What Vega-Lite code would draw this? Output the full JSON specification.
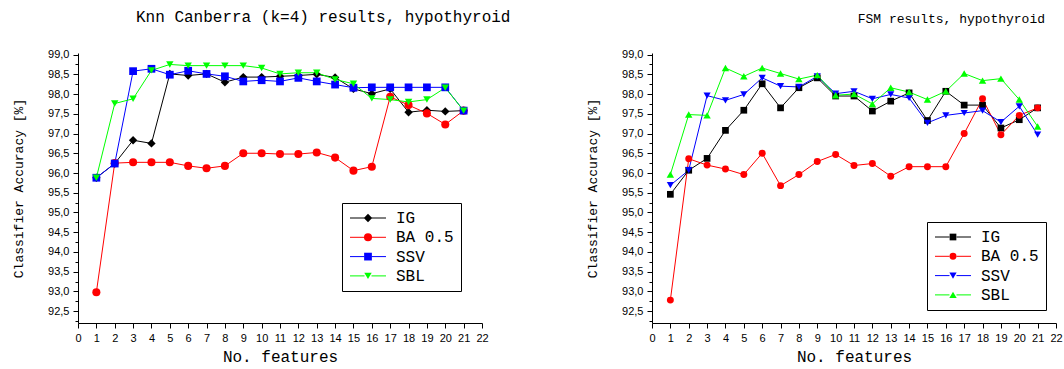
{
  "$schema": "https://vega.github.io/schema/vega-lite/v6.json",
  "background": "white",
  "padding": {"left": 12, "top": 8, "right": 0, "bottom": 0},
  "spacing": 170,
  "bounds": "flush",
  "resolve": {"scale": {"stroke": "independent", "fill": "independent", "shape": "independent", "size": "independent"}, "legend": {"stroke": "independent", "fill": "independent", "shape": "independent", "size": "independent"}},
  "config": {
    "view": {"stroke": null},
    "axis": {"grid": false, "domainColor": "black", "tickColor": "black", "labelColor": "black", "titleColor": "black", "labelFont": "Liberation Sans", "labelFontSize": 11, "titleFont": "Liberation Mono", "titleFontWeight": "normal"}
  },
  "datasets": {
    "left": [
      {"x":1,"v":95.88,"s":"IG"},{"x":2,"v":96.24,"s":"IG"},{"x":3,"v":96.83,"s":"IG"},{"x":4,"v":96.75,"s":"IG"},{"x":5,"v":98.51,"s":"IG"},{"x":6,"v":98.47,"s":"IG"},{"x":7,"v":98.51,"s":"IG"},{"x":8,"v":98.30,"s":"IG"},{"x":9,"v":98.43,"s":"IG"},{"x":10,"v":98.43,"s":"IG"},{"x":11,"v":98.45,"s":"IG"},{"x":12,"v":98.47,"s":"IG"},{"x":13,"v":98.50,"s":"IG"},{"x":14,"v":98.42,"s":"IG"},{"x":15,"v":98.13,"s":"IG"},{"x":16,"v":98.01,"s":"IG"},{"x":17,"v":98.13,"s":"IG"},{"x":18,"v":97.54,"s":"IG"},{"x":19,"v":97.59,"s":"IG"},{"x":20,"v":97.56,"s":"IG"},{"x":21,"v":97.58,"s":"IG"},
      {"x":1,"v":92.98,"s":"BA 0.5"},{"x":2,"v":96.25,"s":"BA 0.5"},{"x":3,"v":96.27,"s":"BA 0.5"},{"x":4,"v":96.27,"s":"BA 0.5"},{"x":5,"v":96.27,"s":"BA 0.5"},{"x":6,"v":96.18,"s":"BA 0.5"},{"x":7,"v":96.12,"s":"BA 0.5"},{"x":8,"v":96.18,"s":"BA 0.5"},{"x":9,"v":96.50,"s":"BA 0.5"},{"x":10,"v":96.50,"s":"BA 0.5"},{"x":11,"v":96.48,"s":"BA 0.5"},{"x":12,"v":96.48,"s":"BA 0.5"},{"x":13,"v":96.52,"s":"BA 0.5"},{"x":14,"v":96.39,"s":"BA 0.5"},{"x":15,"v":96.06,"s":"BA 0.5"},{"x":16,"v":96.16,"s":"BA 0.5"},{"x":17,"v":97.93,"s":"BA 0.5"},{"x":18,"v":97.72,"s":"BA 0.5"},{"x":19,"v":97.51,"s":"BA 0.5"},{"x":20,"v":97.23,"s":"BA 0.5"},{"x":21,"v":97.58,"s":"BA 0.5"},
      {"x":1,"v":95.88,"s":"SSV"},{"x":2,"v":96.24,"s":"SSV"},{"x":3,"v":98.58,"s":"SSV"},{"x":4,"v":98.64,"s":"SSV"},{"x":5,"v":98.49,"s":"SSV"},{"x":6,"v":98.59,"s":"SSV"},{"x":7,"v":98.51,"s":"SSV"},{"x":8,"v":98.45,"s":"SSV"},{"x":9,"v":98.32,"s":"SSV"},{"x":10,"v":98.35,"s":"SSV"},{"x":11,"v":98.32,"s":"SSV"},{"x":12,"v":98.41,"s":"SSV"},{"x":13,"v":98.32,"s":"SSV"},{"x":14,"v":98.24,"s":"SSV"},{"x":15,"v":98.16,"s":"SSV"},{"x":16,"v":98.17,"s":"SSV"},{"x":17,"v":98.17,"s":"SSV"},{"x":18,"v":98.17,"s":"SSV"},{"x":19,"v":98.17,"s":"SSV"},{"x":20,"v":98.17,"s":"SSV"},{"x":21,"v":97.58,"s":"SSV"},
      {"x":1,"v":95.88,"s":"SBL"},{"x":2,"v":97.76,"s":"SBL"},{"x":3,"v":97.88,"s":"SBL"},{"x":4,"v":98.60,"s":"SBL"},{"x":5,"v":98.75,"s":"SBL"},{"x":6,"v":98.72,"s":"SBL"},{"x":7,"v":98.72,"s":"SBL"},{"x":8,"v":98.72,"s":"SBL"},{"x":9,"v":98.72,"s":"SBL"},{"x":10,"v":98.66,"s":"SBL"},{"x":11,"v":98.51,"s":"SBL"},{"x":12,"v":98.54,"s":"SBL"},{"x":13,"v":98.54,"s":"SBL"},{"x":14,"v":98.37,"s":"SBL"},{"x":15,"v":98.26,"s":"SBL"},{"x":16,"v":97.89,"s":"SBL"},{"x":17,"v":97.86,"s":"SBL"},{"x":18,"v":97.80,"s":"SBL"},{"x":19,"v":97.86,"s":"SBL"},{"x":20,"v":98.16,"s":"SBL"},{"x":21,"v":97.58,"s":"SBL"}
    ],
    "right": [
      {"x":1,"v":95.46,"s":"IG"},{"x":2,"v":96.07,"s":"IG"},{"x":3,"v":96.37,"s":"IG"},{"x":4,"v":97.08,"s":"IG"},{"x":5,"v":97.59,"s":"IG"},{"x":6,"v":98.26,"s":"IG"},{"x":7,"v":97.65,"s":"IG"},{"x":8,"v":98.16,"s":"IG"},{"x":9,"v":98.41,"s":"IG"},{"x":10,"v":97.95,"s":"IG"},{"x":11,"v":97.95,"s":"IG"},{"x":12,"v":97.57,"s":"IG"},{"x":13,"v":97.82,"s":"IG"},{"x":14,"v":98.03,"s":"IG"},{"x":15,"v":97.33,"s":"IG"},{"x":16,"v":98.07,"s":"IG"},{"x":17,"v":97.72,"s":"IG"},{"x":18,"v":97.72,"s":"IG"},{"x":19,"v":97.14,"s":"IG"},{"x":20,"v":97.35,"s":"IG"},{"x":21,"v":97.65,"s":"IG"},
      {"x":1,"v":92.78,"s":"BA 0.5"},{"x":2,"v":96.36,"s":"BA 0.5"},{"x":3,"v":96.20,"s":"BA 0.5"},{"x":4,"v":96.10,"s":"BA 0.5"},{"x":5,"v":95.96,"s":"BA 0.5"},{"x":6,"v":96.50,"s":"BA 0.5"},{"x":7,"v":95.68,"s":"BA 0.5"},{"x":8,"v":95.96,"s":"BA 0.5"},{"x":9,"v":96.29,"s":"BA 0.5"},{"x":10,"v":96.47,"s":"BA 0.5"},{"x":11,"v":96.19,"s":"BA 0.5"},{"x":12,"v":96.24,"s":"BA 0.5"},{"x":13,"v":95.92,"s":"BA 0.5"},{"x":14,"v":96.16,"s":"BA 0.5"},{"x":15,"v":96.16,"s":"BA 0.5"},{"x":16,"v":96.16,"s":"BA 0.5"},{"x":17,"v":97.00,"s":"BA 0.5"},{"x":18,"v":97.88,"s":"BA 0.5"},{"x":19,"v":96.97,"s":"BA 0.5"},{"x":20,"v":97.46,"s":"BA 0.5"},{"x":21,"v":97.65,"s":"BA 0.5"},
      {"x":1,"v":95.69,"s":"SSV"},{"x":2,"v":96.07,"s":"SSV"},{"x":3,"v":97.96,"s":"SSV"},{"x":4,"v":97.84,"s":"SSV"},{"x":5,"v":97.99,"s":"SSV"},{"x":6,"v":98.41,"s":"SSV"},{"x":7,"v":98.20,"s":"SSV"},{"x":8,"v":98.18,"s":"SSV"},{"x":9,"v":98.45,"s":"SSV"},{"x":10,"v":98.01,"s":"SSV"},{"x":11,"v":98.07,"s":"SSV"},{"x":12,"v":97.88,"s":"SSV"},{"x":13,"v":97.99,"s":"SSV"},{"x":14,"v":97.90,"s":"SSV"},{"x":15,"v":97.27,"s":"SSV"},{"x":16,"v":97.46,"s":"SSV"},{"x":17,"v":97.52,"s":"SSV"},{"x":18,"v":97.58,"s":"SSV"},{"x":19,"v":97.29,"s":"SSV"},{"x":20,"v":97.69,"s":"SSV"},{"x":21,"v":96.97,"s":"SSV"},
      {"x":1,"v":95.96,"s":"SBL"},{"x":2,"v":97.48,"s":"SBL"},{"x":3,"v":97.46,"s":"SBL"},{"x":4,"v":98.66,"s":"SBL"},{"x":5,"v":98.45,"s":"SBL"},{"x":6,"v":98.66,"s":"SBL"},{"x":7,"v":98.52,"s":"SBL"},{"x":8,"v":98.38,"s":"SBL"},{"x":9,"v":98.48,"s":"SBL"},{"x":10,"v":97.97,"s":"SBL"},{"x":11,"v":98.00,"s":"SBL"},{"x":12,"v":97.75,"s":"SBL"},{"x":13,"v":98.16,"s":"SBL"},{"x":14,"v":98.05,"s":"SBL"},{"x":15,"v":97.86,"s":"SBL"},{"x":16,"v":98.07,"s":"SBL"},{"x":17,"v":98.52,"s":"SBL"},{"x":18,"v":98.34,"s":"SBL"},{"x":19,"v":98.39,"s":"SBL"},{"x":20,"v":97.86,"s":"SBL"},{"x":21,"v":97.18,"s":"SBL"}
    ]
  },
  "hconcat": [
    {
      "width": 404, "height": 270,
      "title": {"text": "Knn Canberra (k=4) results, hypothyroid", "anchor": "start", "frame": "group", "dx": 58, "offset": 24, "font": "Liberation Mono", "fontSize": 16, "fontWeight": "normal", "color": "black"},
      "data": {"name": "left"},
      "encoding": {
        "x": {"field": "x", "type": "quantitative", "scale": {"domain": [0, 22], "nice": false, "zero": false},
          "axis": {"values": [0,1,2,3,4,5,6,7,8,9,10,11,12,13,14,15,16,17,18,19,20,21,22], "title": "No. features", "titleFontSize": 16, "tickSize": 5, "labelPadding": 4, "titlePadding": 5, "labelOverlap": false, "labelFlush": false}},
        "y": {"field": "v", "type": "quantitative", "scale": {"domain": [92.2, 99.04], "nice": false, "zero": false},
          "axis": {"values": [92.25,92.5,92.75,93,93.25,93.5,93.75,94,94.25,94.5,94.75,95,95.25,95.5,95.75,96,96.25,96.5,96.75,97,97.25,97.5,97.75,98,98.25,98.5,98.75,99],
            "tickSize": {"condition": {"test": "datum.value % 0.5 == 0", "value": 5}, "value": 3},
            "labelExpr": "datum.value % 0.5 == 0 ? replace(format(datum.value, '.1f'), '.', ',') : ''",
            "labelOverlap": false, "labelPadding": 4, "title": "Classifier Accuracy [%]", "titleFontSize": 13, "titleX": -60, "titleBaseline": "middle"}}
      },
      "layer": [
        {"mark": {"type": "line", "strokeWidth": 1},
         "encoding": {"stroke": {"field": "s", "type": "nominal", "sort": ["IG", "BA 0.5", "SSV", "SBL"], "scale": {"range": ["#000000", "#FF0000", "#0000FF", "#00FF00"]},
           "legend": {"title": null, "orient": "none", "legendX": 264, "legendY": 150, "direction": "vertical", "strokeColor": "black", "padding": 7,
             "labelFont": "Liberation Mono", "labelFontSize": 16, "labelColor": "black", "symbolType": "M-5.14,0H-1M1,0H5.14", "symbolSize": 49, "symbolStrokeWidth": 1,
             "symbolOffset": 11, "labelOffset": 20, "rowPadding": 3.3}}}},
        {"mark": {"type": "point", "filled": true, "opacity": 1, "strokeWidth": 0},
         "encoding": {
           "size": {"field": "s", "type": "nominal", "scale": {"domain": ["IG", "BA 0.5", "SSV", "SBL"], "range": [70, 55, 55, 75]}},
           "shape": {"field": "s", "type": "nominal", "scale": {"domain": ["IG", "BA 0.5", "SSV", "SBL"], "range": ["diamond", "circle", "square", "triangle-down"]},
             "legend": {"title": null, "orient": "none", "legendX": 264, "legendY": 150, "direction": "vertical", "padding": 7, "labelFont": "Liberation Mono", "labelFontSize": 16, "labelOpacity": 0, "symbolOffset": 11, "labelOffset": 20, "rowPadding": 3.3, "symbolStrokeWidth": 0}},
           "fill": {"field": "s", "type": "nominal", "scale": {"domain": ["IG", "BA 0.5", "SSV", "SBL"], "range": ["#000000", "#FF0000", "#0000FF", "#00FF00"]},
             "legend": {"title": null, "orient": "none", "legendX": 264, "legendY": 150, "direction": "vertical", "padding": 7, "labelFont": "Liberation Mono", "labelFontSize": 16, "labelOpacity": 0, "symbolOffset": 11, "labelOffset": 20, "rowPadding": 3.3, "symbolStrokeWidth": 0}}
         }}
      ]
    },
    {
      "width": 404, "height": 270,
      "title": {"text": "FSM results, hypothyroid", "anchor": "end", "frame": "group", "dx": -11, "offset": 23, "font": "Liberation Mono", "fontSize": 13, "fontWeight": "normal", "color": "black"},
      "data": {"name": "right"},
      "encoding": {
        "x": {"field": "x", "type": "quantitative", "scale": {"domain": [0, 22], "nice": false, "zero": false},
          "axis": {"values": [0,1,2,3,4,5,6,7,8,9,10,11,12,13,14,15,16,17,18,19,20,21,22], "title": "No. features", "titleFontSize": 16, "tickSize": 5, "labelPadding": 4, "titlePadding": 5, "labelOverlap": false, "labelFlush": false}},
        "y": {"field": "v", "type": "quantitative", "scale": {"domain": [92.2, 99.04], "nice": false, "zero": false},
          "axis": {"values": [92.25,92.5,92.75,93,93.25,93.5,93.75,94,94.25,94.5,94.75,95,95.25,95.5,95.75,96,96.25,96.5,96.75,97,97.25,97.5,97.75,98,98.25,98.5,98.75,99],
            "tickSize": {"condition": {"test": "datum.value % 0.5 == 0", "value": 5}, "value": 3},
            "labelExpr": "datum.value % 0.5 == 0 ? replace(format(datum.value, '.1f'), '.', ',') : ''",
            "labelOverlap": false, "labelPadding": 4, "title": "Classifier Accuracy [%]", "titleFontSize": 13, "titleX": -60, "titleBaseline": "middle"}}
      },
      "layer": [
        {"mark": {"type": "line", "strokeWidth": 1},
         "encoding": {"stroke": {"field": "s", "type": "nominal", "sort": ["IG", "BA 0.5", "SSV", "SBL"], "scale": {"range": ["#000000", "#FF0000", "#0000FF", "#00FF00"]},
           "legend": {"title": null, "orient": "none", "legendX": 275, "legendY": 169, "direction": "vertical", "strokeColor": "black", "padding": 7,
             "labelFont": "Liberation Mono", "labelFontSize": 16, "labelColor": "black", "symbolType": "M-5.14,0H-1M1,0H5.14", "symbolSize": 49, "symbolStrokeWidth": 1,
             "symbolOffset": 11, "labelOffset": 20, "rowPadding": 3.3}}}},
        {"mark": {"type": "point", "filled": true, "opacity": 1, "strokeWidth": 0},
         "encoding": {
           "size": {"field": "s", "type": "nominal", "scale": {"domain": ["IG", "BA 0.5", "SSV", "SBL"], "range": [45, 55, 70, 70]}},
           "shape": {"field": "s", "type": "nominal", "scale": {"domain": ["IG", "BA 0.5", "SSV", "SBL"], "range": ["square", "circle", "triangle-down", "triangle-up"]},
             "legend": {"title": null, "orient": "none", "legendX": 275, "legendY": 169, "direction": "vertical", "padding": 7, "labelFont": "Liberation Mono", "labelFontSize": 16, "labelOpacity": 0, "symbolOffset": 11, "labelOffset": 20, "rowPadding": 3.3, "symbolStrokeWidth": 0}},
           "fill": {"field": "s", "type": "nominal", "scale": {"domain": ["IG", "BA 0.5", "SSV", "SBL"], "range": ["#000000", "#FF0000", "#0000FF", "#00FF00"]},
             "legend": {"title": null, "orient": "none", "legendX": 275, "legendY": 169, "direction": "vertical", "padding": 7, "labelFont": "Liberation Mono", "labelFontSize": 16, "labelOpacity": 0, "symbolOffset": 11, "labelOffset": 20, "rowPadding": 3.3, "symbolStrokeWidth": 0}}
         }}
      ]
    }
  ]
}
